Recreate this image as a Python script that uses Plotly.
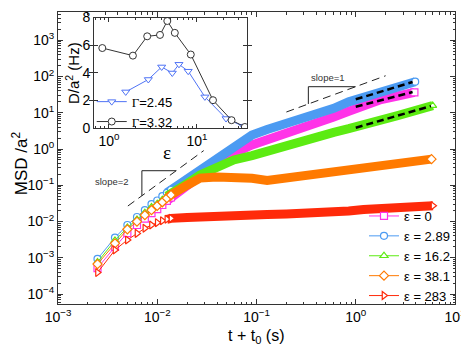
"""
MSD vs lag time for several epsilon values, with D/a^2 inset
"""
import plotly.graph_objects as go

# ---- main panel data ----
t_early = [0.0025, 0.00375, 0.005, 0.00625, 0.0075, 0.00875, 0.01, 0.01125, 0.0125, 0.01375]
t_late = [0.02, 0.027, 0.04, 0.059, 0.09, 0.128, 0.2, 0.278, 0.4, 0.6, 0.85, 1.2, 1.8, 2.64]

t_end_e0 = [3.9]
t_end_e289 = [3.97]
t_end_e162 = [5.96]
t_end_e381 = [5.8]
t_end_e283 = [6.0]

msd_e0 = [5.2e-4, 2.0e-3, 4.8e-3, 8.0e-3, 1.2e-2, 1.7e-2, 2.2e-2, 2.85e-2, 3.7e-2, 4.6e-2,
          0.098, 0.178, 0.38, 0.76, 1.29, 1.77, 2.82, 3.72, 4.79, 7.6, 11.0, 16.5, 23.2, 29.0, 36.6]
msd_e289 = [9.3e-4, 3.6e-3, 8.0e-3, 1.33e-2, 2.07e-2, 3.0e-2, 3.8e-2, 5.0e-2, 6.2e-2, 7.4e-2,
            0.153, 0.274, 0.589, 1.20, 2.43, 3.47, 4.90, 6.76, 9.55, 13.2, 20.0, 26.9, 38.9, 50.1, 71.9]
msd_e162 = [7.6e-4, 3.0e-3, 6.8e-3, 1.13e-2, 1.75e-2, 2.5e-2, 3.1e-2, 4.0e-2, 5.0e-2, 6.1e-2,
            0.112, 0.192, 0.331, 0.50, 0.66, 0.89, 1.20, 1.55, 2.09, 2.88, 3.63, 4.57, 6.17, 8.32, 15.8]
msd_e381 = [6.7e-4, 2.5e-3, 6.1e-3, 9.9e-3, 1.5e-2, 2.07e-2, 2.7e-2, 3.4e-2, 4.4e-2, 5.4e-2,
            0.10, 0.158, 0.17, 0.17, 0.155, 0.135, 0.158, 0.19, 0.219, 0.245, 0.282, 0.316, 0.372, 0.437, 0.525]
msd_e283 = [3.9e-4, 1.64e-3, 3.1e-3, 4.7e-3, 6.5e-3, 8.0e-3, 9.3e-3, 1.05e-2, 1.15e-2, 1.22e-2,
            1.29e-2, 1.30e-2, 1.33e-2, 1.38e-2, 1.46e-2, 1.55e-2, 1.62e-2, 1.66e-2, 1.72e-2, 1.82e-2,
            1.95e-2, 2.14e-2, 2.34e-2, 2.57e-2, 2.73e-2]

# guide lines
slope2_t = [5.06e-3, 0.0294]
slope2_m = [0.0268, 0.905]
tri2_t = [7.0e-3, 7.0e-3, 0.0155]
tri2_m = [0.0513, 0.252, 0.252]
slope1_t = [0.2, 2.0]
slope1_m = [10.5, 105]
tri1_t = [0.333, 0.333, 0.998]
tri1_m = [17.5, 52.4, 52.4]

# power-law fits at long times
fit_e289_t = [1.0, 3.74]
fit_e289_m = [23.5, 70.5]
fit_e0_t = [1.0, 3.74]
fit_e0_m = [14.7, 37.3]
fit_e162_t = [1.0, 5.72]
fit_e162_m = [3.87, 15.3]

# ---- inset data ----
eps_g245 = [1.55, 2.8, 3.97, 5.24, 6.24, 7.95, 12.3, 21.4, 33.6]
D_g245 = [2.61, 3.51, 4.42, 3.98, 4.61, 4.11, 2.25, 0.68, 0.12]
eps_g332 = [0.84, 1.87, 2.72, 3.8, 4.6, 5.6, 8.5, 15.2, 24.7, 35]
D_g332 = [5.79, 5.24, 6.64, 6.74, 7.75, 6.89, 5.32, 2.01, 0.56, 0.07]

# tick labels
t_exps = [-3, -2, -1, 0, 1]
msd_exps = [-4, -3, -2, -1, 0, 1, 2, 3]
eps_exps = [0, 1]

# minor tick positions for the log axes
minor_t = [m * 10.0 ** e for e in range(-3, 1) for m in range(2, 10)]
minor_msd = [m * 10.0 ** e for e in range(-5, 4) for m in range(2, 10)]
minor_eps = [m * 10.0 ** e for e in range(-1, 2) for m in range(2, 10)]

FONT = "Liberation Sans"
FRAME = "#333333"

series = [
    ("\u03b5 = 0", msd_e0, t_end_e0, "#FF33E8", "square"),
    ("\u03b5 = 2.89", msd_e289, t_end_e289, "#4C9BF2", "circle"),
    ("\u03b5 = 16.2", msd_e162, t_end_e162, "#5CEB12", "triangle-up"),
    ("\u03b5 = 38.1", msd_e381, t_end_e381, "#FF7A00", "diamond"),
    ("\u03b5 = 283", msd_e283, t_end_e283, "#FF2A0A", "triangle-right"),
]


def pow_ticks(exps):
    vals = [10.0 ** e for e in exps]
    text = ["10<sup>%s</sup>" % str(e).replace("-", "\u2212") for e in exps]
    return dict(tickmode="array", tickvals=vals, ticktext=text)


fig = go.Figure()

n_early = len(t_early)
for name, msd, t_end, color, sym in series:
    t_all = t_early + t_late + t_end
    # dense part: overlapping markers look like a thick band
    fig.add_trace(go.Scatter(
        x=t_all[n_early - 2:], y=msd[n_early - 2:], mode="lines",
        line=dict(color=color, width=9), showlegend=False, hoverinfo="skip"))
    # sparse early points
    fig.add_trace(go.Scatter(
        x=t_early, y=msd[:n_early], mode="lines+markers", name=name,
        line=dict(color=color, width=1),
        marker=dict(symbol=sym, size=7, color="white", line=dict(color=color, width=1.2))))
    # last point
    fig.add_trace(go.Scatter(
        x=t_all[-1:], y=msd[-1:], mode="markers", showlegend=False,
        marker=dict(symbol=sym, size=7, color="white", line=dict(color=color, width=1.2))))

for ft, fm in [(fit_e289_t, fit_e289_m), (fit_e0_t, fit_e0_m), (fit_e162_t, fit_e162_m)]:
    fig.add_trace(go.Scatter(x=ft, y=fm, mode="lines", showlegend=False,
                             line=dict(color="black", width=2.5, dash="7px,4px")))

for gx, gy, dash in [(slope2_t, slope2_m, "8px,5px"), (slope1_t, slope1_m, "8px,5px"),
                     (tri2_t, tri2_m, "solid"), (tri1_t, tri1_m, "solid")]:
    fig.add_trace(go.Scatter(x=gx, y=gy, mode="lines", showlegend=False,
                             line=dict(color="#222222", width=1, dash=dash)))

# inset traces
fig.add_trace(go.Scatter(
    x=eps_g245, y=D_g245, mode="lines+markers", xaxis="x2", yaxis="y2",
    name="<span style='font-family:Liberation Serif'>\u0393</span>=2.45",
    line=dict(color="#4F73F5", width=1),
    marker=dict(symbol="triangle-down", size=7, color="white", line=dict(color="#4F73F5", width=1)),
    legend="legend2"))
fig.add_trace(go.Scatter(
    x=eps_g332, y=D_g332, mode="lines+markers", xaxis="x2", yaxis="y2",
    name="<span style='font-family:Liberation Serif'>\u0393</span>=3.32",
    line=dict(color="#333333", width=1),
    marker=dict(symbol="circle", size=7, color="white", line=dict(color="#333333", width=1)),
    legend="legend2"))


def frame_axis(**kw):
    base = dict(showgrid=False, zeroline=False, showline=True, mirror="allticks",
                linecolor=FRAME, linewidth=1, ticks="inside", ticklen=5, tickcolor=FRAME,
                automargin=False, tickfont=dict(family=FONT, size=14, color="black"))
    base.update(kw)
    return base


def minor_axis(vals, rng, **kw):
    base = dict(type="log", range=rng, tickmode="array", tickvals=vals, showticklabels=False,
                ticks="inside", ticklen=2.5, tickcolor=FRAME, mirror="allticks",
                showgrid=False, zeroline=False, showline=False, automargin=False)
    base.update(kw)
    return base


# the page body has an 8px margin, so the figure is 8px smaller than the window
fig.update_layout(
    width=461, height=345,
    margin=dict(l=50, r=14, t=4, b=49),
    plot_bgcolor="white", paper_bgcolor="white",
    font=dict(family=FONT, color="black"),
    xaxis=frame_axis(type="log", range=[-3, 1], domain=[0, 1], **pow_ticks(t_exps)),
    yaxis=frame_axis(type="log", range=[-4.276, 3.78], domain=[0, 1], **pow_ticks(msd_exps)),
    xaxis2=frame_axis(type="log", range=[-0.17, 1.568], domain=[0.0907, 0.476], anchor="y2",
                      ticklen=4, **pow_ticks(eps_exps)),
    yaxis2=frame_axis(range=[0, 8], domain=[0.603, 0.981], anchor="x2", dtick=2, ticklen=4),
    xaxis3=minor_axis(minor_t, [-3, 1], overlaying="x", anchor="y", domain=[0, 1]),
    yaxis3=minor_axis(minor_msd, [-4.276, 3.78], overlaying="y", anchor="x", domain=[0, 1]),
    xaxis4=minor_axis(minor_eps, [-0.17, 1.568], overlaying="x2", anchor="y2",
                      domain=[0.0907, 0.476], ticklen=2),
    legend=dict(x=1, y=-0.024, xanchor="right", yanchor="bottom", bgcolor="rgba(0,0,0,0)",
                font=dict(family=FONT, size=13), itemwidth=30, tracegroupgap=0),
    legend2=dict(x=0.085, y=0.573, xanchor="left", yanchor="bottom", bgcolor="rgba(0,0,0,0)",
                 font=dict(family=FONT, size=13), itemwidth=30, tracegroupgap=0),
    annotations=[
        dict(text="MSD /a<sup>2</sup>", xref="paper", yref="paper", x=-0.095, y=0.483,
             xanchor="center", yanchor="middle", textangle=-90, showarrow=False,
             font=dict(size=17)),
        dict(text="t + t<sub>0</sub> (s)", xref="paper", yref="paper", x=0.4987, y=-0.11,
             xanchor="center", yanchor="middle", showarrow=False, font=dict(size=16)),
        dict(text="D/a<sup>2</sup> (Hz)", xref="paper", yref="paper", x=0.0353, y=0.791,
             xanchor="center", yanchor="middle", textangle=-90, showarrow=False,
             font=dict(size=15)),
        dict(text="\u03b5", xref="paper", yref="paper", x=0.2746, y=0.5205,
             xanchor="center", yanchor="middle", showarrow=False,
             font=dict(family="Liberation Serif", size=19)),
        dict(text="slope=2", xref="x", yref="y", x=-2.455, y=-0.897,
             xanchor="center", yanchor="middle", showarrow=False,
             font=dict(size=9.5, color="#333333")),
        dict(text="slope=1", xref="x", yref="y", x=-0.278, y=1.978,
             xanchor="center", yanchor="middle", showarrow=False,
             font=dict(size=9.5, color="#333333")),
    ],
)

# empty traces so the overlay minor-tick axes get drawn
fig.add_trace(go.Scatter(x=[None], y=[None], xaxis="x3", yaxis="y3", showlegend=False))
fig.add_trace(go.Scatter(x=[None], y=[None], xaxis="x4", yaxis="y2", showlegend=False))

fig.write_html("out.html")
